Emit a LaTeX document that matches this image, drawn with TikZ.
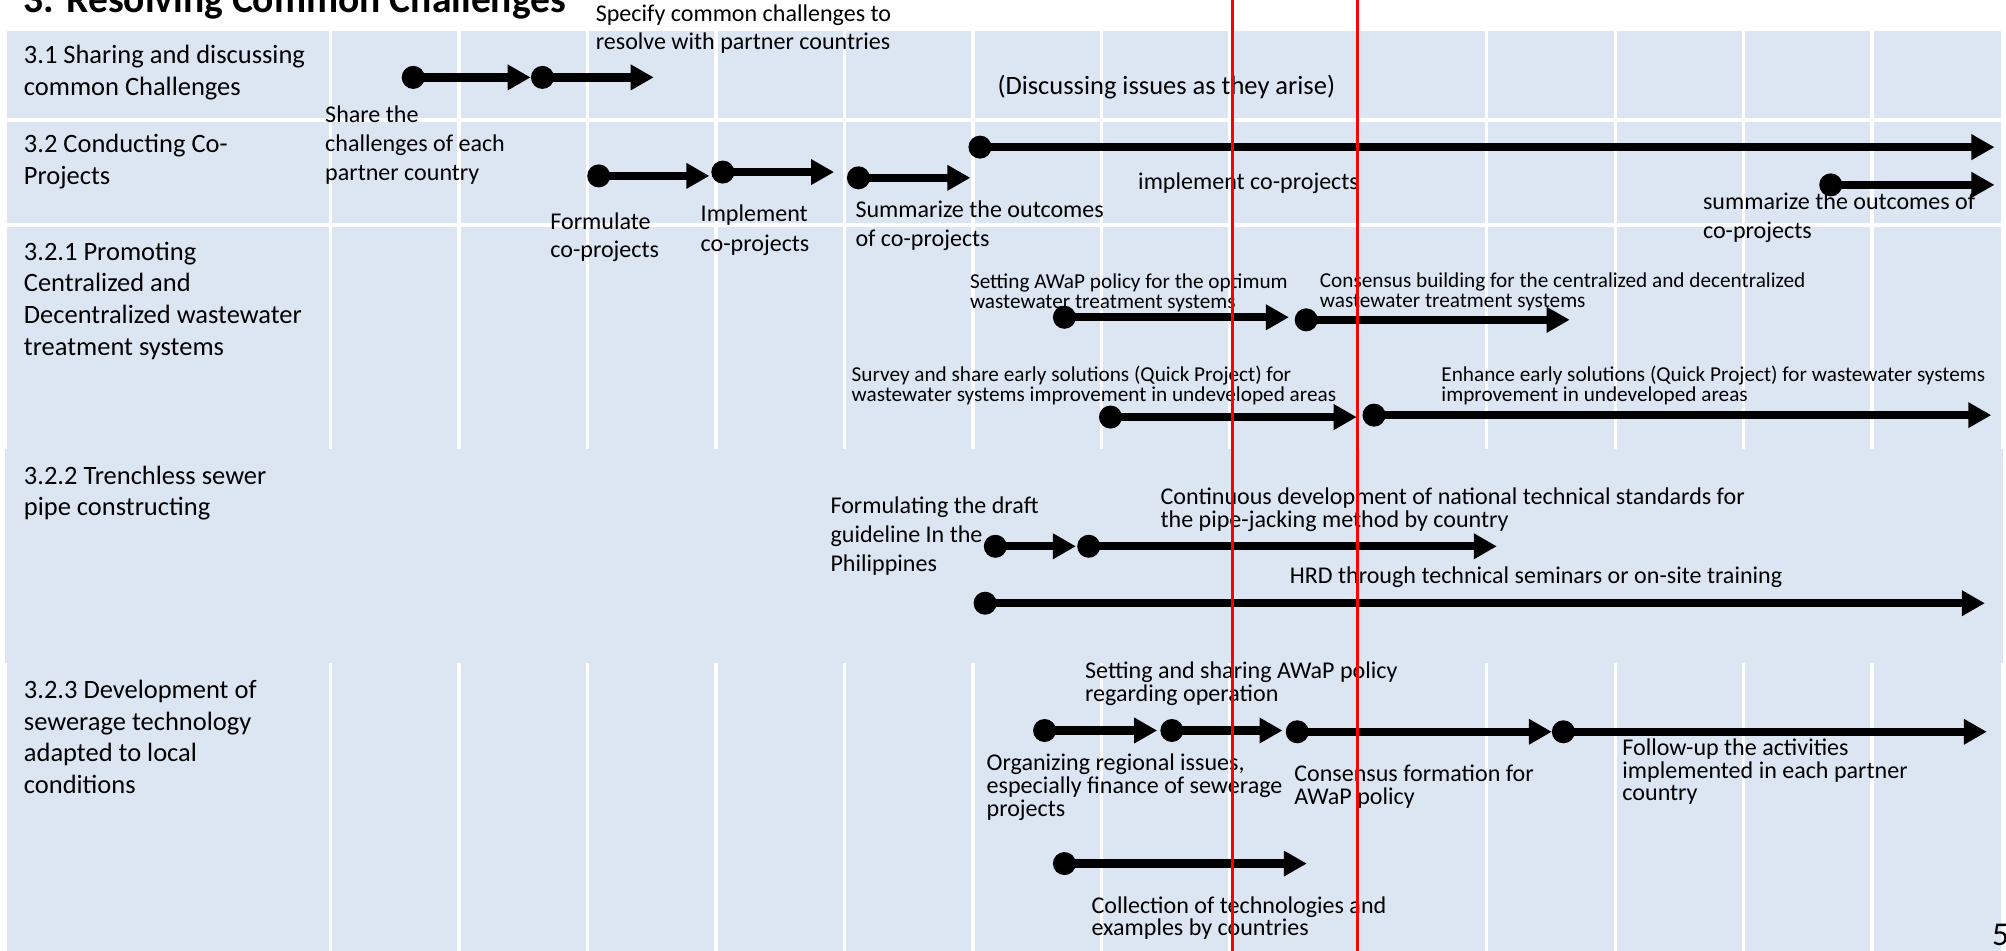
\documentclass[tikz,border=0pt]{standalone}
\usepackage{fontspec}
\setmainfont{Carlito}
\usetikzlibrary{arrows.meta}

\definecolor{cellblue}{HTML}{DCE6F2}
\definecolor{guide}{HTML}{FF0000}

% stacked lines, left aligned, baseline of the block = baseline of the first line
\newcommand\txtrows[1]{\vtop{\lineskiplimit=-100pt\lineskip=0pt\halign{##\hfil\cr#1\crcr}}}

\tikzset{
  cell/.style={fill=cellblue, draw=none},
  colsep/.style={draw=white, line width=2.6pt},
  dot/.style={circle, fill=black, draw=none, inner sep=0pt, minimum size=18pt},
  flow/.style={line width=6.5pt, -{Triangle[length=18pt,width=19pt]}},
  rowlabel/.style={anchor=base west, inner sep=0pt, font=\fontsize{20.7}{24.8}\selectfont},
  note/.style={anchor=base west, inner sep=0pt, font=\fontsize{18.8}{#1}\selectfont},
  note/.default=22,
  small/.style={anchor=base west, inner sep=0pt, font=\fontsize{16.6}{15.5}\selectfont},
  redline/.style={draw=guide, line width=2pt},
}

\begin{document}
\begin{tikzpicture}[x=1pt, y=-1pt]
\useasboundingbox (0,0) rectangle (1568,743.35);

% ---------- table background ----------
\fill[cell] (5.5,24.2) rectangle (1564,92.5);
\fill[cell] (5.5,95.2) rectangle (1564,174.5);
\fill[cell] (5.5,177.5) rectangle (1564,351);
\fill[cell] (3.9,351) rectangle (1566,518);
\fill[cell] (5.5,518) rectangle (1564,743.35);

% column separators
\foreach \k in {0,...,12} {
  \draw[colsep] ({258.5+100.4*\k},24.2) -- ({258.5+100.4*\k},351);
  \draw[colsep] ({258.5+100.4*\k},518) -- ({258.5+100.4*\k},743.35);
}

% ---------- title ----------
\node[anchor=base west, inner sep=0pt, font=\fontsize{30.9}{36}\selectfont\bfseries] (title) at (18.5,10) {3. Resolving Common Challenges};

% ---------- row labels ----------
\node[rowlabel] (l31)  at (18.5,49.5)  {\txtrows{3.1 Sharing and discussing\cr common Challenges}};
\node[rowlabel] (l32)  at (18.5,119.5) {\txtrows{3.2 Conducting Co-\cr Projects}};
\node[rowlabel] (l321) at (18.5,203.3) {\txtrows{3.2.1 Promoting\cr Centralized and\cr Decentralized wastewater\cr treatment systems}};
\node[rowlabel] (l322) at (18.5,378.5) {\txtrows{3.2.2 Trenchless sewer\cr pipe constructing}};
\node[rowlabel] (l323) at (18.5,546) {\txtrows{3.2.3 Development of\cr sewerage technology\cr adapted to local\cr conditions}};

% ---------- 3.1 ----------
\node[dot] (a1) at (323,60.5) {};
\node[dot] (a2) at (424,60.5) {};
\coordinate (a2e) at (511,60.5);
\draw[flow] (a1.center) -- (a2.west);
\draw[flow] (a2.center) -- (a2e);
\node[note=22] (tspec) at (465.5,17) {\txtrows{Specify common challenges to\cr resolve with partner countries}};
\node[note=22.7] (tshare) at (254,95.5) {\txtrows{Share the\cr challenges of each\cr partner country}};
\node[rowlabel] (tdisc) at (779.5,74) {(Discussing issues as they arise)};

% ---------- 3.2 ----------
\node[dot] (b1) at (468,137.5) {};
\node[dot] (b2) at (565,134.5) {};
\node[dot] (b3) at (671,139) {};
\node[dot] (b4) at (766,115) {};
\node[dot] (b5) at (1431,144.5) {};
\coordinate (b1e) at (554.5,137.5);
\coordinate (b2e) at (652,134.5);
\coordinate (b3e) at (758.5,139);
\coordinate (b4e) at (1559,115);
\coordinate (b5e) at (1559,144.5);
\draw[flow] (b1.center) -- (b1e);
\draw[flow] (b2.center) -- (b2e);
\draw[flow] (b3.center) -- (b3e);
\draw[flow] (b4.center) -- (b4e);
\draw[flow] (b5.center) -- (b5e);
\node[note=22] (tform) at (430,179.5) {\txtrows{Formulate\cr co-projects}};
\node[note=23] (timpl) at (547.5,173.5) {\txtrows{Implement\cr co-projects}};
\node[note=22.5] (tsumm) at (668.5,170) {\txtrows{Summarize the outcomes\cr of co-projects}};
\node[note] (timpl2) at (889.5,148) {implement co-projects};
\node[note=22.5] (tsumm2) at (1331,164) {\txtrows{summarize the outcomes of\cr co-projects}};

% ---------- 3.2.1 ----------
\node[dot] (c1) at (832,248) {};
\node[dot] (c2) at (1021,250) {};
\node[dot] (c3) at (868,326) {};
\node[dot] (c4) at (1074,324.5) {};
\coordinate (c1e) at (1007.5,248);
\coordinate (c2e) at (1227,250);
\coordinate (c3e) at (1060.5,326);
\coordinate (c4e) at (1556.5,324.5);
\draw[flow] (c1.center) -- (c1e);
\draw[flow] (c2.center) -- (c2e);
\draw[flow] (c3.center) -- (c3e);
\draw[flow] (c4.center) -- (c4e);
\node[small] (tawap) at (758,225.5) {\txtrows{Setting AWaP policy for the optimum\cr wastewater treatment systems}};
\node[small] (tcons) at (1031.5,225) {\txtrows{Consensus building for the centralized and decentralized\cr wastewater treatment systems}};
\node[small] (tsurv) at (665.5,298) {\txtrows{Survey and share early solutions (Quick Project) for\cr wastewater systems improvement in undeveloped areas}};
\node[small] (tenh) at (1126.5,298) {\txtrows{Enhance early solutions (Quick Project) for wastewater systems\cr improvement in undeveloped areas}};

% ---------- 3.2.2 ----------
\node[dot] (d1) at (778,427) {};
\node[dot] (d2) at (851,427) {};
\node[dot] (d3) at (770,471.5) {};
\coordinate (d1e) at (841,427);
\coordinate (d2e) at (1170,427);
\coordinate (d3e) at (1551.5,471.5);
\draw[flow] (d1.center) -- (d1e);
\draw[flow] (d2.center) -- (d2e);
\draw[flow] (d3.center) -- (d3e);
\node[note=22.8] (tdraft) at (649,401) {\txtrows{Formulating the draft\cr guideline In the\cr Philippines}};
\node[note=18.5] (tstd) at (907,394) {\txtrows{Continuous development of national technical standards for\cr the pipe-jacking method by country}};
\node[note] (thrd) at (1008,456) {HRD through technical seminars or on-site training};

% ---------- 3.2.3 ----------
\node[dot] (e1) at (816.5,571) {};
\node[dot] (e2) at (916,571) {};
\node[dot] (e3) at (1014,572) {};
\node[dot] (e4) at (1222,572) {};
\node[dot] (e5) at (832,675) {};
\coordinate (e1e) at (904.5,571);
\coordinate (e2e) at (1002.5,571);
\coordinate (e3e) at (1213,572);
\coordinate (e4e) at (1553,572);
\coordinate (e5e) at (1021.5,675);
\draw[flow] (e1.center) -- (e1e);
\draw[flow] (e2.center) -- (e2e);
\draw[flow] (e3.center) -- (e3e);
\draw[flow] (e4.center) -- (e4e);
\draw[flow] (e5.center) -- (e5e);
\node[note=17.5] (tshare2) at (848,530.5) {\txtrows{Setting and sharing AWaP policy\cr regarding operation}};
\node[note=17.8] (torg) at (771,602.5) {\txtrows{Organizing regional issues,\cr especially finance of sewerage\cr projects}};
\node[note=17.5] (tform2) at (1011.5,611) {\txtrows{Consensus formation for\cr AWaP policy}};
\node[note=17.8] (tfollow) at (1268,590.5) {\txtrows{Follow-up the activities\cr implemented in each partner\cr country}};
\node[note=17.5] (tcoll) at (853,714) {\txtrows{Collection of technologies and\cr examples by countries}};

% page number
\node[anchor=base west, inner sep=0pt, font=\fontsize{26}{30}\selectfont] (pg) at (1557,739) {5};

% ---------- red period markers ----------
\coordinate (r1t) at (963.2,0);
\coordinate (r1b) at (963.2,743.35);
\coordinate (r2t) at (1061.2,0);
\coordinate (r2b) at (1061.2,743.35);
\draw[redline] (r1t) -- (r1b);
\draw[redline] (r2t) -- (r2b);
\end{tikzpicture}
\end{document}
